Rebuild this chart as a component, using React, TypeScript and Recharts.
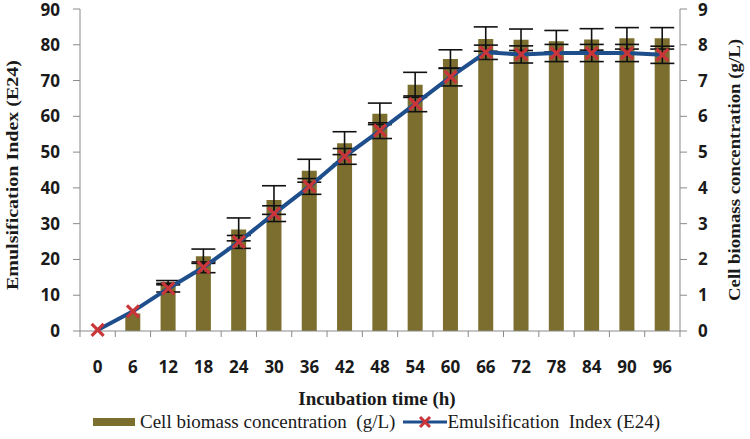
import {
  ComposedChart,
  Bar,
  Line,
  XAxis,
  YAxis,
  ErrorBar,
} from 'recharts';

// ─── Data ───────────────────────────────────────────────────────────
const times = ['0', '6', '12', '18', '24', '30', '36', '42', '48', '54', '60', '66', '72', '78', '84', '90', '96'];
const biomass = [0, 0.49, 1.37, 2.09, 2.84, 3.66, 4.48, 5.25, 6.07, 6.88, 7.6, 8.16, 8.14, 8.1, 8.15, 8.18, 8.18];
const biomassErr = [null, null, 0.04, 0.2, 0.32, 0.4, 0.32, 0.32, 0.3, 0.35, 0.26, 0.34, 0.3, 0.3, 0.3, 0.3, 0.3];
const e24 = [0.3, 5.5, 11.9, 17.8, 24.9, 32.8, 40.4, 48.8, 56, 63.5, 71, 77.9, 77.3, 77.7, 77.7, 77.7, 77.2];
const e24Err = [null, null, 1, 1.5, 1.8, 2.2, 2.2, 2.2, 2.2, 2.2, 2.5, 2, 2.4, 2.4, 2.4, 2.4, 2.4];
const leftTicks = [0, 10, 20, 30, 40, 50, 60, 70, 80, 90];
const rightTicks = [0, 1, 2, 3, 4, 5, 6, 7, 8, 9];

const data = times.map((t, i) => ({
  time: t,
  biomass: biomass[i],
  biomassErr: biomassErr[i],
  e24: e24[i],
  e24Err: e24Err[i],
}));

// ─── Styling ────────────────────────────────────────────────────────
const W = 750;
const H = 439;
const PLOT_LEFT = 80;
const PLOT_RIGHT = 680;
const BAND = (PLOT_RIGHT - PLOT_LEFT) / times.length;
const AXIS = '#8a8a8a';
const OLIVE = '#7b6e2f';
const BLUE = '#1f4e8c';
const RED = '#c8363a';
const INK = '#1a1a1a';
const SANS = '"Noto Sans", sans-serif';
const SERIF = '"Liberation Serif", "Times New Roman", serif';

// x ticks sit on the band edges, labels in the band centre
function TimeTick(props: any) {
  const { x, y, payload, index } = props;
  const last = index === times.length - 1;
  return (
    <g>
      <line x1={x - BAND / 2} x2={x - BAND / 2} y1={y} y2={y + 6} stroke={AXIS} />
      {last && <line x1={x + BAND / 2} x2={x + BAND / 2} y1={y} y2={y + 6} stroke={AXIS} />}
      <text x={x} y={y + 42} textAnchor="middle" fontFamily={SANS} fontWeight={700} fontSize={17} fill={INK}>
        {payload.value}
      </text>
    </g>
  );
}

function CrossDot(props: any) {
  const { cx, cy } = props;
  if (cx == null || cy == null) return null;
  const r = 6;
  return (
    <g stroke={RED} strokeWidth={3.2}>
      <line x1={cx - r} y1={cy - r} x2={cx + r} y2={cy + r} />
      <line x1={cx - r} y1={cy + r} x2={cx + r} y2={cy - r} />
    </g>
  );
}

function LegendBox() {
  return (
    <div
      style={{
        position: 'absolute',
        left: 93,
        top: 411,
        display: 'flex',
        alignItems: 'center',
        fontFamily: SERIF,
        fontSize: 19,
        color: INK,
        whiteSpace: 'pre',
      }}
    >
      <svg width={42} height={10} style={{ marginRight: 5 }}>
        <rect x={0} y={1} width={42} height={8} fill={OLIVE} />
      </svg>
      <span>Cell biomass concentration  (g/L)</span>
      <svg width={44} height={16} style={{ marginLeft: 8 }}>
        <line x1={0} x2={44} y1={8} y2={8} stroke={BLUE} strokeWidth={3} />
        <line x1={17} y1={3} x2={27} y2={13} stroke={RED} strokeWidth={3} />
        <line x1={17} y1={13} x2={27} y2={3} stroke={RED} strokeWidth={3} />
      </svg>
      <span>Emulsification  Index (E24)</span>
    </div>
  );
}

const tickStyle = { fontFamily: SANS, fontWeight: 700, fontSize: 17, fill: INK };

export default function App() {
  return (
    <div style={{ position: 'absolute', left: 0, top: 0, width: W, height: H, background: '#fff' }}>
      <ComposedChart
        width={W}
        height={H}
        data={data}
        margin={{ top: 9, right: 0, bottom: 0, left: 0 }}
        barCategoryGap={0}
      >
        <XAxis
          dataKey="time"
          stroke={AXIS}
          tickLine={false}
          tickSize={0}
          tickMargin={0}
          height={108}
          interval={0}
          tick={<TimeTick />}
          label={{
            content: () => (
              <text x={377} y={405} textAnchor="middle" fontFamily={SERIF} fontWeight={700} fontSize={19} fill={INK}>
                Incubation time (h)
              </text>
            ),
          }}
        />
        <YAxis
          yAxisId="left"
          orientation="left"
          width={PLOT_LEFT}
          domain={[0, 90]}
          ticks={leftTicks}
          stroke={AXIS}
          tickSize={7}
          tickMargin={13}
          tick={tickStyle}
          label={{
            content: () => (
              <text
                x={18}
                y={175}
                transform="rotate(-90 18 175)"
                textAnchor="middle"
                fontFamily={SERIF}
                fontWeight={700}
                fontSize={17}
                textLength={230}
                lengthAdjust="spacingAndGlyphs"
                fill={INK}
              >
                Emulsification Index (E24)
              </text>
            ),
          }}
        />
        <YAxis
          yAxisId="right"
          orientation="right"
          width={W - PLOT_RIGHT}
          domain={[0, 9]}
          ticks={rightTicks}
          stroke={AXIS}
          tickSize={7}
          tickMargin={11}
          tick={tickStyle}
          label={{
            content: () => (
              <text
                x={740}
                y={170}
                transform="rotate(-90 740 170)"
                textAnchor="middle"
                fontFamily={SERIF}
                fontWeight={700}
                fontSize={16}
                textLength={262}
                lengthAdjust="spacingAndGlyphs"
                fill={INK}
              >
                Cell biomass concentration (g/L)
              </text>
            ),
          }}
        />
        <Bar yAxisId="right" dataKey="biomass" fill={OLIVE} barSize={15} isAnimationActive={false}>
          <ErrorBar dataKey="biomassErr" width={12} stroke="#111" strokeWidth={1.6} />
        </Bar>
        <Line
          yAxisId="left"
          dataKey="e24"
          stroke={BLUE}
          strokeWidth={4}
          dot={<CrossDot />}
          activeDot={false}
          isAnimationActive={false}
        >
          <ErrorBar dataKey="e24Err" width={12} stroke="#111" strokeWidth={1.6} />
        </Line>
      </ComposedChart>
      <LegendBox />
    </div>
  );
}
